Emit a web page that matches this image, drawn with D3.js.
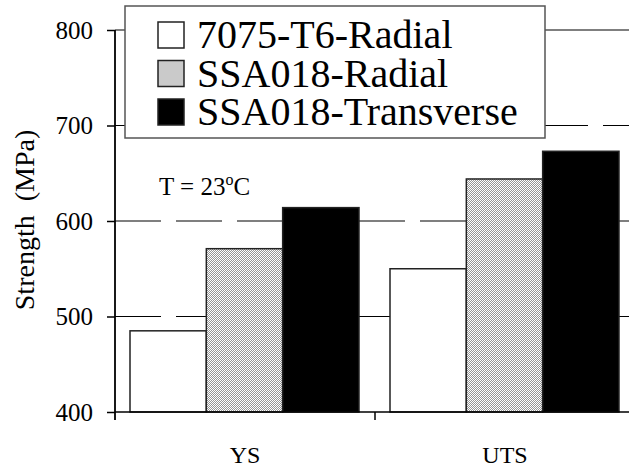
<!DOCTYPE html>
<html>
<head>
<meta charset="utf-8">
<script src="https://cdn.jsdelivr.net/npm/d3@7"></script>
<style>
  html, body { margin: 0; padding: 0; background: #fff; }
  svg { display: block; }
  svg text { font-family: "Liberation Serif", "Times New Roman", "DejaVu Serif", serif; fill: #000; }
</style>
</head>
<body>
<svg id="chart" width="629" height="470"></svg>
<script>
const categories = ["YS", "UTS"];
const seriesNames = ["7075-T6-Radial", "SSA018-Radial", "SSA018-Transverse"];
const values7075 = [485, 550];
const valuesSSARadial = [571, 644];
const valuesSSATransverse = [614, 673];
const yTicks = [400, 500, 600, 700, 800];
const annotation = "T = 23";

const FONT = "'Liberation Serif', 'Times New Roman', serif";
const seriesValues = [values7075, valuesSSARadial, valuesSSATransverse];
const fills = ["#ffffff", "url(#dots)", "#000000"];

const svg = d3.select("#chart");
const defs = svg.append("defs");
const pat = defs.append("pattern").attr("id", "dots")
  .attr("patternUnits", "userSpaceOnUse").attr("width", 2).attr("height", 2);
pat.append("rect").attr("width", 2).attr("height", 2).attr("fill", "#ffffff");
pat.append("rect").attr("x", 0).attr("y", 0).attr("width", 1).attr("height", 1).attr("fill", "#959595");
pat.append("rect").attr("x", 1).attr("y", 1).attr("width", 1).attr("height", 1).attr("fill", "#959595");

const x0 = d3.scaleBand().domain(categories).range([115, 635]).paddingInner(0).paddingOuter(0);
const x1 = d3.scaleBand().domain(seriesNames).range([15, 244]).padding(0);
const y = d3.scaleLinear().domain([400, 800]).range([412, 30]);

// gridlines
svg.append("g").selectAll("line").data(yTicks.filter(t => t > 400 && t < 800)).join("line")
  .attr("x1", 115).attr("x2", 640)
  .attr("y1", d => y(d)).attr("y2", d => y(d))
  .attr("stroke", "#000").attr("stroke-width", 1.2)
  .attr("stroke-dasharray", "46,15");
// top frame line
svg.append("line").attr("x1", 115).attr("x2", 640).attr("y1", y(800)).attr("y2", y(800))
  .attr("stroke", "#000").attr("stroke-width", 1.2);

// bars
const groups = svg.append("g").selectAll("g").data(categories).join("g")
  .attr("transform", d => `translate(${x0(d)},0)`);
groups.selectAll("rect").data((c, ci) => seriesNames.map((s, si) => ({ s, si, v: seriesValues[si][ci] })))
  .join("rect")
  .attr("x", d => x1(d.s))
  .attr("width", x1.bandwidth())
  .attr("y", d => y(d.v))
  .attr("height", d => y(400) - y(d.v))
  .attr("fill", d => fills[d.si])
  .attr("stroke", "#222").attr("stroke-width", 1.5);

// y axis
const yAxis = d3.axisLeft(y).tickValues(yTicks).tickSize(8).tickPadding(14).tickFormat(d3.format("d"));
const gy = svg.append("g").attr("transform", "translate(115,0)").call(yAxis)
  .attr("font-family", FONT);
gy.select(".domain").remove();
gy.selectAll(".tick line").attr("stroke", "#000").attr("stroke-width", 1.5);
gy.selectAll(".tick text").attr("font-size", 25).attr("font-family", FONT);
svg.append("line").attr("x1", 115).attr("x2", 115).attr("y1", y(800)).attr("y2", y(400) + 8)
  .attr("stroke", "#000").attr("stroke-width", 1.8);

// x axis
const xAxis = d3.axisBottom(x0).tickSize(0).tickPadding(0);
const gx = svg.append("g").attr("transform", `translate(0,${y(400)})`).call(xAxis)
  .attr("font-family", FONT);
gx.select(".domain").remove();
gx.selectAll(".tick text").attr("font-size", 24).attr("font-family", FONT)
  .attr("dy", null).attr("y", 51);
svg.append("line").attr("x1", 115).attr("x2", 640).attr("y1", y(400)).attr("y2", y(400))
  .attr("stroke", "#000").attr("stroke-width", 1.5);
svg.append("g").selectAll("line").data(categories.slice(1)).join("line")
  .attr("x1", d => x0(d)).attr("x2", d => x0(d))
  .attr("y1", y(400)).attr("y2", y(400) + 8)
  .attr("stroke", "#000").attr("stroke-width", 1.5);

// y label
svg.append("text")
  .attr("transform", `translate(34,220) rotate(-90)`)
  .attr("text-anchor", "middle")
  .attr("font-family", FONT)
  .attr("font-size", 28)
  .attr("xml:space", "preserve")
  .style("white-space", "pre")
  .text("Strength  (MPa)");

// annotation
const ann = svg.append("text").attr("x", 159).attr("y", 195).attr("font-size", 25).attr("font-family", FONT);
ann.append("tspan").text(annotation);
ann.append("tspan").attr("dy", -10).attr("font-size", 16).text("o");
ann.append("tspan").attr("dy", 10).text("C");

// legend
const lg = svg.append("g");
lg.append("rect").attr("x", 125).attr("y", 6).attr("width", 420).attr("height", 132)
  .attr("fill", "#fff").attr("stroke", "#555").attr("stroke-width", 1.5);
const rows = lg.selectAll("g").data(seriesNames).join("g")
  .attr("transform", (d, i) => `translate(158,${22 + i * 38.5})`);
rows.append("rect").attr("width", 26).attr("height", 26)
  .attr("fill", (d, i) => fills[i]).attr("stroke", "#222").attr("stroke-width", 1.5);
rows.append("text").attr("x", 39).attr("y", 26).attr("font-size", 40).attr("font-family", FONT).text(d => d);
</script>
</body>
</html>
